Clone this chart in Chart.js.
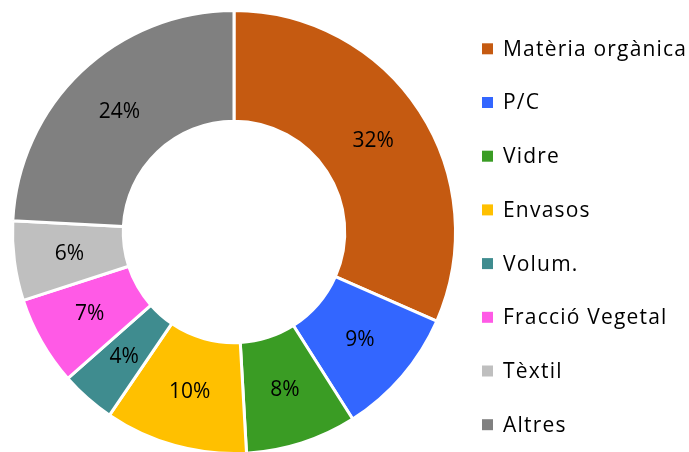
<!DOCTYPE html>
<html>
<head>
<meta charset="utf-8">
<script src="https://cdn.jsdelivr.net/npm/chart.js@4/dist/chart.umd.min.js"></script>
<style>
html,body{margin:0;padding:0;background:#fff;overflow:hidden;}
#wrap{position:relative;width:689px;height:452px;overflow:hidden;}
</style>
</head>
<body>
<div id="wrap"><canvas id="c" width="689" height="470"></canvas></div>
<script>
const categories = ["Matèria orgànica", "P/C", "Vidre", "Envasos", "Volum.", "Fracció Vegetal", "Tèxtil", "Altres"];
const shares = [31.6, 9.4, 8.1, 10.4, 4.0, 6.5, 5.8, 24.2];
const colors = ["#C55A11", "#3366FF", "#3A9C24", "#FFC000", "#3F8C8F", "#FF5AE6", "#BFBFBF", "#808080"];

const FONT = "'Open Sans', Lato, sans-serif";

const labelPlugin = {
  id: 'sliceLabels',
  afterDatasetsDraw(chart) {
    const ctx = chart.ctx;
    const meta = chart.getDatasetMeta(0);
    const vals = chart.data.datasets[0].data;
    ctx.save();
    ctx.font = "21px " + FONT;
    ctx.fillStyle = "#000";
    ctx.textAlign = "center";
    ctx.textBaseline = "middle";
    meta.data.forEach((arc, i) => {
      const p = arc.tooltipPosition();
      ctx.fillText(Math.round(vals[i]) + "%", p.x, p.y);
    });
    ctx.restore();
  }
};

const legendPlugin = {
  id: 'sideLegend',
  afterDraw(chart) {
    const ctx = chart.ctx;
    const labels = chart.data.labels;
    const bg = chart.data.datasets[0].backgroundColor;
    ctx.save();
    ctx.font = "21px " + FONT;
    ctx.letterSpacing = "1.2px";
    ctx.textAlign = "left";
    ctx.textBaseline = "middle";
    const x0 = 482, y0 = 48.8, dy = 53.7, box = 11;
    labels.forEach((lab, i) => {
      const cy = y0 + i * dy;
      ctx.fillStyle = bg[i];
      ctx.fillRect(x0, cy - box / 2, box, box);
      ctx.fillStyle = "#000";
      ctx.fillText(lab, 503, cy + 1);
    });
    ctx.restore();
  }
};

new Chart(document.getElementById('c'), {
  type: 'doughnut',
  data: {
    labels: categories,
    datasets: [{
      data: shares,
      backgroundColor: colors,
      borderColor: '#ffffff',
      borderWidth: 3,
      hoverBorderWidth: 3,
      hoverOffset: 0
    }]
  },
  options: {
    responsive: false,
    animation: false,
    cutout: '50%',
    layout: { padding: { left: 11, right: 232, top: 9, bottom: 15 } },
    plugins: {
      legend: { display: false },
      tooltip: { enabled: false }
    }
  },
  plugins: [labelPlugin, legendPlugin]
});
</script>
</body>
</html>
